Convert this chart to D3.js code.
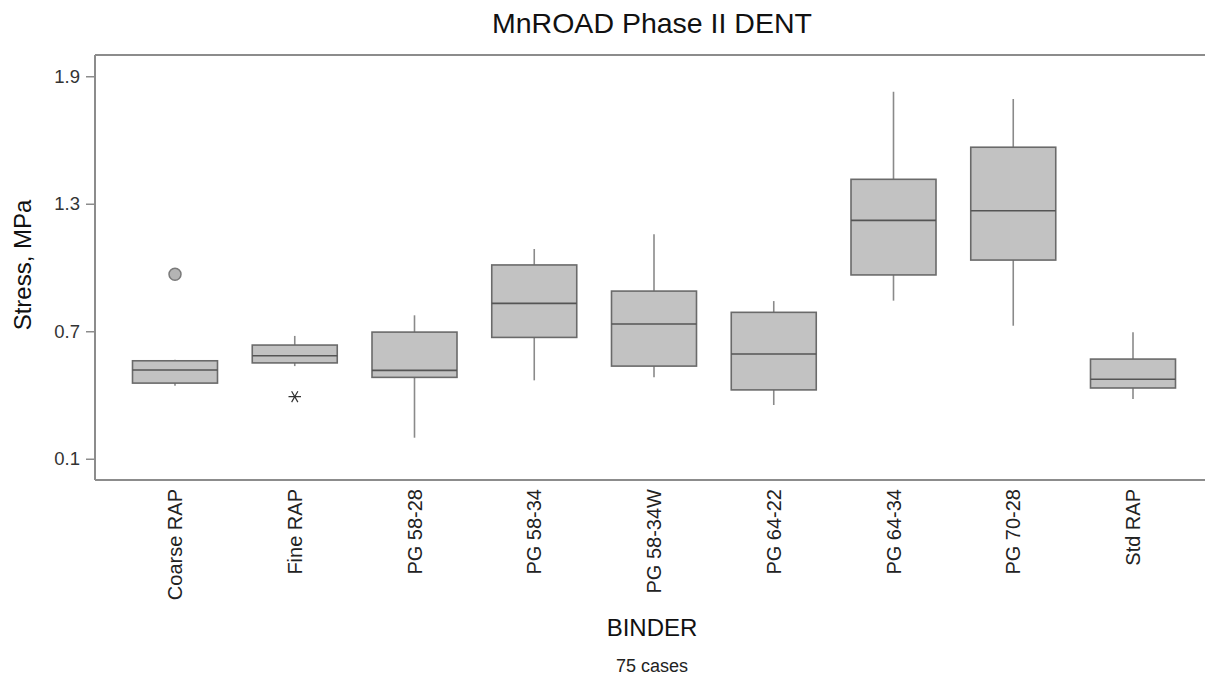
<!DOCTYPE html>
<html>
<head>
<meta charset="utf-8">
<script src="https://cdn.jsdelivr.net/npm/d3@7"></script>
<style>
  html, body { margin: 0; padding: 0; background: #fff; }
  svg { display: block; font-family: "Liberation Sans", Arial, sans-serif; }
</style>
</head>
<body>
<svg id="chart" width="1205" height="677"></svg>
<script>
// Binder groups and their box-plot statistics (Stress, MPa)
const categories = ["Coarse RAP", "Fine RAP", "PG 58-28", "PG 58-34", "PG 58-34W",
                    "PG 64-22", "PG 64-34", "PG 70-28", "Std RAP"];
const whiskerLow  = [0.444, 0.536, 0.199, 0.469, 0.483, 0.353, 0.844, 0.726, 0.381];
const quartile1   = [0.456, 0.551, 0.483, 0.671, 0.536, 0.424, 0.965, 1.035, 0.433];
const medians     = [0.518, 0.585, 0.516, 0.831, 0.734, 0.593, 1.222, 1.267, 0.474];
const quartile3   = [0.561, 0.635, 0.696, 1.012, 0.889, 0.789, 1.415, 1.566, 0.569];
const whiskerHigh = [0.566, 0.678, 0.775, 1.087, 1.156, 0.842, 1.827, 1.793, 0.695];

// Points beyond the whiskers: "far" drawn as circles, "outside" as asterisks
const outlierGroup = ["Coarse RAP", "Fine RAP"];
const outlierValue = [0.968, 0.392];
const outlierKind  = ["far", "outside"];

const yTicks = [0.1, 0.7, 1.3, 1.9];

const svg = d3.select("#chart");
const plotLeft = 95, plotTop = 55, plotRight = 1205, plotBottom = 480;

const x = d3.scalePoint().domain(categories).range([plotLeft + 80, 1133]);
const y = d3.scaleLinear().domain([0, 2.0]).range([plotBottom, plotTop]);
const boxW = 85;

const boxes = categories.map((c, i) => ({
  c, lo: whiskerLow[i], q1: quartile1[i], med: medians[i], q3: quartile3[i], hi: whiskerHigh[i]
}));

// Frame: top and bottom rules, left axis
svg.append("line").attr("x1", plotLeft).attr("x2", plotRight).attr("y1", plotTop).attr("y2", plotTop)
  .attr("stroke", "#8c8c8c").attr("stroke-width", 2);
svg.append("line").attr("x1", plotLeft).attr("x2", plotRight).attr("y1", plotBottom).attr("y2", plotBottom)
  .attr("stroke", "#8c8c8c").attr("stroke-width", 2);

const yAxis = svg.append("g")
  .attr("transform", `translate(${plotLeft},0)`)
  .call(d3.axisLeft(y).tickValues(yTicks).tickFormat(d3.format(".1f")).tickSize(9).tickPadding(6));
yAxis.select(".domain").attr("stroke", "#8c8c8c").attr("stroke-width", 2)
  .attr("d", `M0,${plotTop}V${plotBottom}`);
yAxis.selectAll(".tick line").attr("stroke", "#8c8c8c").attr("stroke-width", 1.5);
yAxis.selectAll(".tick text").attr("fill", "#333").style("font-size", "18.5px")
  .style("font-family", "'Liberation Sans', Arial, sans-serif");

// Whiskers
const g = svg.append("g");
g.selectAll("line.whisker-hi").data(boxes).join("line")
  .attr("x1", d => x(d.c)).attr("x2", d => x(d.c))
  .attr("y1", d => y(d.q3)).attr("y2", d => y(d.hi))
  .attr("stroke", "#8a8a8a").attr("stroke-width", 1.6);
g.selectAll("line.whisker-lo").data(boxes).join("line")
  .attr("x1", d => x(d.c)).attr("x2", d => x(d.c))
  .attr("y1", d => y(d.q1)).attr("y2", d => y(d.lo))
  .attr("stroke", "#8a8a8a").attr("stroke-width", 1.6);

// Boxes
g.selectAll("rect.box").data(boxes).join("rect")
  .attr("x", d => x(d.c) - boxW / 2).attr("width", boxW)
  .attr("y", d => y(d.q3)).attr("height", d => y(d.q1) - y(d.q3))
  .attr("fill", "#c2c2c2").attr("stroke", "#6a6a6a").attr("stroke-width", 1.6);

// Medians
g.selectAll("line.median").data(boxes).join("line")
  .attr("x1", d => x(d.c) - boxW / 2).attr("x2", d => x(d.c) + boxW / 2)
  .attr("y1", d => y(d.med)).attr("y2", d => y(d.med))
  .attr("stroke", "#555").attr("stroke-width", 1.6);

// Outliers
const outliers = outlierGroup.map((c, i) => ({ c, v: outlierValue[i], kind: outlierKind[i] }));
g.selectAll("circle.far").data(outliers.filter(d => d.kind === "far")).join("circle")
  .attr("cx", d => x(d.c)).attr("cy", d => y(d.v)).attr("r", 6)
  .attr("fill", "#b4b4b4").attr("stroke", "#7a7a7a").attr("stroke-width", 1.5);
g.selectAll("path.outside").data(outliers.filter(d => d.kind === "outside")).join("path")
  .attr("transform", d => `translate(${x(d.c)},${y(d.v)}) rotate(90)`)
  .attr("d", d3.symbol(d3.symbolAsterisk, 110))
  .attr("fill", "none").attr("stroke", "#333").attr("stroke-width", 1.2);

// Category labels, rotated
svg.append("g").selectAll("text").data(categories).join("text")
  .attr("transform", d => `translate(${x(d)},489) rotate(-90)`)
  .attr("text-anchor", "end").attr("dy", "0.35em")
  .style("font-size", "20px").attr("fill", "#222")
  .text(d => d);

// Titles
svg.append("text").attr("x", 652).attr("y", 33).attr("text-anchor", "middle")
  .style("font-size", "28.5px").attr("fill", "#111").text("MnROAD Phase II DENT");
svg.append("text").attr("x", 652).attr("y", 636).attr("text-anchor", "middle")
  .style("font-size", "24px").attr("fill", "#111").text("BINDER");
svg.append("text").attr("x", 652).attr("y", 672).attr("text-anchor", "middle")
  .style("font-size", "18px").attr("fill", "#222").text("75 cases");
svg.append("text").attr("transform", "translate(31,265) rotate(-90)")
  .attr("text-anchor", "middle")
  .style("font-size", "24px").attr("fill", "#111").text("Stress, MPa");
</script>
</body>
</html>
